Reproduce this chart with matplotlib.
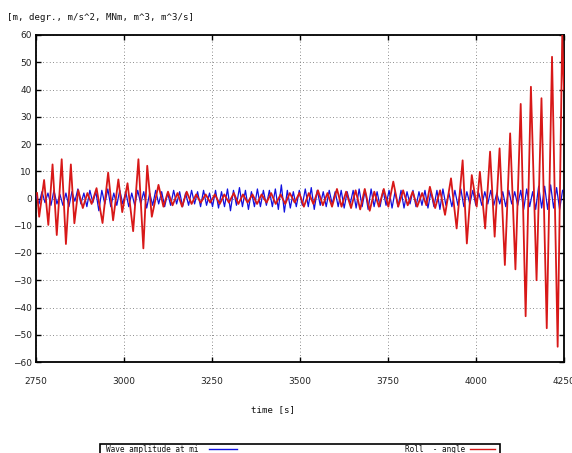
import matplotlib
matplotlib.use("Agg")
import numpy as np
import matplotlib.pyplot as plt
from matplotlib.patches import Rectangle
from matplotlib.lines import Line2D

# Roll angle: turning points (time [s], angle [deg])
roll_t = [2753, 2759, 2773, 2785, 2797, 2809, 2823, 2835, 2849, 2859,
          2870, 2883, 2896, 2908, 2922, 2939, 2955, 2969, 2984, 2995,
          3010, 3026, 3041, 3055, 3066, 3079, 3098,
          3112, 3125, 3138, 3152, 3165, 3178, 3192, 3205, 3218, 3232,
          3245, 3258, 3272, 3285, 3298, 3312, 3325, 3338, 3351, 3365,
          3378, 3391, 3405, 3418, 3431, 3445, 3458, 3471, 3485, 3498,
          3511, 3525, 3538, 3551, 3565, 3578, 3591, 3605, 3618, 3631,
          3645, 3658, 3671, 3684, 3698, 3711, 3724, 3738, 3751,
          3765, 3779, 3793, 3806, 3820, 3833, 3847, 3859, 3869, 3884,
          3898, 3912, 3929, 3945, 3962, 3974, 3988, 4002, 4011, 4026,
          4040, 4053, 4067, 4082, 4097, 4112, 4127, 4141, 4156, 4172,
          4186, 4201, 4216, 4232, 4245, 4250]
roll_v = [2, -6.7, 6.8, -9.7, 12.5, -13.4, 14.4, -16.7, 12.5, -9.1,
          3.1, -3.5, 2, -2, 3.8, -9, 9.5, -8, 7, -5,
          5.6, -12, 14.4, -18.3, 12, -6.7, 5,
          -3, 2.5, -2.5, 2, -3, 2.5, -2, 1.5, -1.5, 1.5,
          -1.5, 1.5, -2, 1.5, -1.5, 2, -2, 1.5, -1.5, 1.5,
          -2, 1.5, -1.5, 2, -2, 1.5, -2, 2, -1.5, 2,
          -3, 2, -2, 3, -2.5, 2, -3, 3.5, -3, 2.5,
          -3.5, 3, -4, 3.5, -4.5, 2.5, -3, 3.5, -3,
          6.2, -3, 3, -2.5, 2.5, -3, 2, -2.5, 4.3, -3.5,
          3, -6, 7.4, -11, 14, -16.5, 8.6, -3, 9.8, -11,
          17.2, -14, 18.4, -24.4, 23.9, -26, 34.7, -43.2, 41, -30,
          36.8, -47.6, 52, -54.4, 60, 40]

# Wave amplitude: turning points every half period (8.5 s) from t = 2750 s
wave_dt = 8.5
wave_v = [1, -2, 2.5, -1.5, 2, -2.5, 3, -2, 1.5, -2.5,
          2, -3, 2.5, -1, 3.5, -2, 2, -3, 3, -1.5,
          2.5, -4.5, 3, -2, 3.5, -3, 2, -2.5, 3, -2,
          2.5, -3, 2, -2.5, 3, -2, 2.5, -3.5, 2, -2.5,
          3, -2, 2.5, -3, 2, -2.5, 3, -2, 2.5, -3,
          2, -2.5, 3, -2, 2.5, -3, 3, -2.5, 2, -3,
          3, -3.5, 2.5, -3, 3.5, -4.5, 3, -2.5, 4, -3,
          3, -4, 2.5, -3, 3.5, -3, 3, -2.5, 3, -3,
          3.5, -4, 5, -5, 3, -3.5, 2.5, -3, 3, -2.5,
          3.5, -3, 4, -4, 3, -2.5, 2.5, -3, 3, -2,
          2.5, -3, 3, -3.5, 2.5, -2, 3, -3.5, 3.5, -3,
          3, -4, 3.5, -3, 2.5, -3, 3, -2.5, 3, -3.5,
          2.5, -3, 3, -3.5, 2.5, -2, 3, -3, 2.5, -2.5,
          3, -3.5, 2.5, -3, 3, -4, 3.5, -2.5, 2, -3,
          3, -2.5, 3.5, -3, 2.5, -2, 3, -2.5, 2, -2.5,
          2.5, -2, 3, -2.5, 2, -2, 2.5, -3, 3, -2,
          2.5, -2.5, 3, -4, 3.5, -3, 2.5, -4, 4.5, -3.5,
          4.5, -4, 5, -3.5, 4, -4, 3]
wave_t = 2750 + wave_dt * np.arange(len(wave_v))

x_ticks = [2750, 3000, 3250, 3500, 3750, 4000, 4250]
y_ticks = list(range(-60, 61, 10))

BLUE = '#1010e0'
RED = '#d81818'
W, H = 572, 453

fig = plt.figure(figsize=(W / 100, H / 100), dpi=100)
ax = fig.add_axes([36 / W, 1 - 362 / H, 528 / W, 327 / H])

ax.plot(wave_t, wave_v, color=BLUE, lw=0.9, zorder=3)
ax.plot(roll_t, roll_v, color=RED, lw=1.3, zorder=4)

ax.set_xlim(2750, 4250)
ax.set_ylim(-60, 60)
ax.set_xticks(x_ticks)
ax.set_yticks(y_ticks)
ax.grid(True, color='#666666', lw=0.6, linestyle=(0, (1, 3)))
ax.tick_params(direction='in', length=3.5, width=1, top=True, right=True,
               labelsize=6.5, labelcolor='#222222')
ax.tick_params(axis='x', pad=11)
ax.tick_params(axis='y', pad=3)
for s in ax.spines.values():
    s.set_linewidth(1.3)

mono = 'DejaVu Sans Mono'
fig.text(7 / W, 1 - 17 / H, '[m, degr., m/s^2, MNm, m^3, m^3/s]',
         family=mono, fontsize=6.6, va='center', ha='left', color='#111111')
fig.text(273 / W, 1 - 410 / H, 'time [s]', family=mono, fontsize=6.6,
         va='center', ha='center', color='#111111')

# legend box (cut by the lower image edge, as in the original)
fig.patches.append(Rectangle((100 / W, -10 / H), 400 / W, (453 - 444 + 10) / H,
                             transform=fig.transFigure, fill=False,
                             lw=1.2, edgecolor='black'))
ly = 1 - 449 / H
fig.text(106 / W, ly, 'Wave amplitude at mi', family=mono, fontsize=5.6,
         va='center', ha='left', color='#111111')
fig.lines.append(Line2D([209 / W, 237 / W], [ly, ly], transform=fig.transFigure,
                        color=BLUE, lw=1.0))
fig.text(465 / W, ly, 'Roll  - angle', family=mono, fontsize=5.6,
         va='center', ha='right', color='#111111')
fig.lines.append(Line2D([470 / W, 495 / W], [ly, ly], transform=fig.transFigure,
                        color=RED, lw=1.0))

fig.savefig('out.png', dpi=100)
